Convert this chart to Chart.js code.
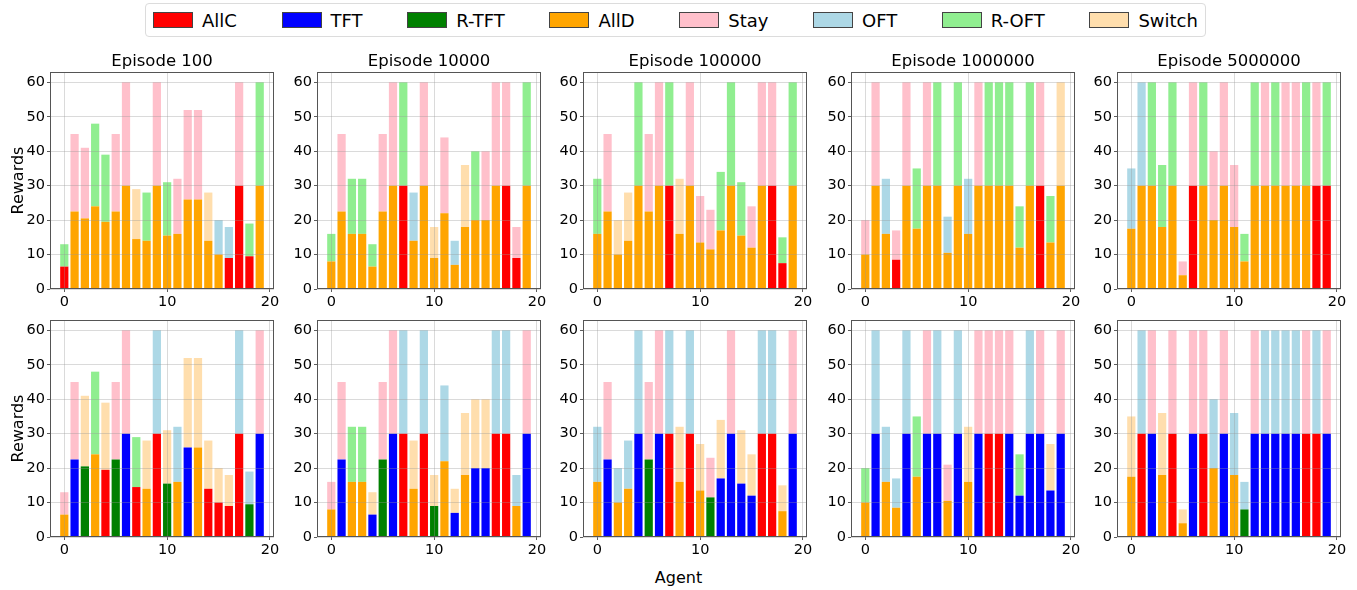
<!DOCTYPE html>
<html>
<head>
<meta charset="utf-8">
<script src="https://cdn.jsdelivr.net/npm/chart.js@4.4.0/dist/chart.umd.min.js"></script>
<style>
    body { margin: 0; background: #fff; font-family: "DejaVu Sans", sans-serif; }
    #wrap { position: relative; width: 1357px; height: 590px; overflow: hidden; background: #fff; }
    #wrap canvas { position: absolute; }
    #legend {
        position: absolute; left: 145px; top: 3px; width: 1061px; height: 34px;
        box-sizing: border-box; border: 1px solid #dcdcdc; border-radius: 4px;
        display: flex; align-items: center; justify-content: space-between; padding: 0 7px;
    }
    .item { display: flex; align-items: center; font-size: 18px; color: #000; }
    .patch { width: 38px; height: 14px; border: 1px solid #444; margin-right: 9px; }
    #xlabel { position: absolute; left: 0; width: 1357px; top: 568px; text-align: center; font-size: 16px; }
</style>
</head>
<body>
<div id="wrap">
    <div id="legend"></div>
    <div id="xlabel">Agent</div>
</div>
<script>
// ---- data ----
const agents = [0, 1, 2, 3, 4, 5, 6, 7, 8, 9, 10, 11, 12, 13, 14, 15, 16, 17, 18, 19];
const episodes = ['Episode 100', 'Episode 10000', 'Episode 100000', 'Episode 1000000', 'Episode 5000000'];
const xTicks = [0, 10, 20];
const yTicks = [0, 10, 20, 30, 40, 50, 60];

const strategies = ['AllC', 'TFT', 'R-TFT', 'AllD', 'Stay', 'OFT', 'R-OFT', 'Switch'];
const strategyCodes = ['C', 'T', 'R', 'D', 'S', 'O', 'G', 'W'];
const strategyColors = ['#ff0000', '#0000ff', '#008000', '#ffa500', '#ffc0cb', '#add8e6', '#90ee90', '#ffdead'];

// lower segment height and total bar height, per episode
const lower100 = [6.5, 22.5, 20.5, 24, 19.5, 22.5, 30, 14.5, 14, 30, 15.5, 16, 26, 26, 14, 10, 9, 30, 9.5, 30];
const total100 = [13, 45, 41, 48, 39, 45, 60, 29, 28, 60, 31, 32, 52, 52, 28, 20, 18, 60, 19, 60];
const lower10000 = [8, 22.5, 16, 16, 6.5, 22.5, 30, 30, 14, 30, 9, 22, 7, 18, 20, 20, 30, 30, 9, 30];
const total10000 = [16, 45, 32, 32, 13, 45, 60, 60, 28, 60, 18, 44, 14, 36, 40, 40, 60, 60, 18, 60];
const lower100000 = [16, 22.5, 10, 14, 30, 22.5, 30, 30, 16, 30, 13.5, 11.5, 17, 30, 15.5, 12, 30, 30, 7.5, 30];
const total100000 = [32, 45, 20, 28, 60, 45, 60, 60, 32, 60, 27, 23, 34, 60, 31, 24, 60, 60, 15, 60];
const lower1000000 = [10, 30, 16, 8.5, 30, 17.5, 30, 30, 10.5, 30, 16, 30, 30, 30, 30, 12, 30, 30, 13.5, 30];
const total1000000 = [20, 60, 32, 17, 60, 35, 60, 60, 21, 60, 32, 60, 60, 60, 60, 24, 60, 60, 27, 60];
const lower5000000 = [17.5, 30, 30, 18, 30, 4, 30, 30, 20, 30, 18, 8, 30, 30, 30, 30, 30, 30, 30, 30];
const total5000000 = [35, 60, 60, 36, 60, 8, 60, 60, 40, 60, 36, 16, 60, 60, 60, 60, 60, 60, 60, 60];

// strategy of each segment, one letter per agent (see strategyCodes)
const topRowLower = ['CDDDDDDDDDDDDDDDCCCD', 'DDDDDDDCDDDDDDDDDCCD', 'DDDDDDDCDDDDDDDDDCCD', 'DDDCDDDDDDDDDDDDDCDD', 'DDDDDDCDDDDDDDDDDDCC'];
const topRowUpper = ['GSSGGSSWGSGSSSWOOSGG', 'GSGGGSSGOSWSOWGSSSSG', 'GSWWGSSGWSSSGGGSSSGG', 'SSOSSGSGOGOSGGGGGSGW', 'OOGGGSSGSSSGGSGSSGSG'];
const bottomRowLower = ['DTRDCRTCDCRDTDCCCCRT', 'DTDDTRTCDCRDTDTTCCDT', 'DTDDTRTCDCDRTTTTCCDT', 'DTDDTDTTDTDTCCTTTTTT', 'DCTDCDTCDTDRTTTTTCCT'];
const bottomRowUpper = ['SSWGWSSGWOWOWWWWWOOS', 'SSGGWSSOWOWOWWWWOOOS', 'OSOOOSSOWOWSWSWWOOWS', 'GOOOOGSOSOWSSSSGOSWS', 'WOSWSWSSOSOOSOOOOSOS'];

const lowers = [lower100, lower10000, lower100000, lower1000000, lower5000000];
const totals = [total100, total10000, total100000, total1000000, total5000000];

// ---- layout ----
const FONT = 'DejaVu Sans';
const colLeft = [50, 317, 583, 851, 1117];
const rowTop = [72, 320];
const plotW = 224, plotH = 217, titleH = 20, xAxisH = 22, rightPad = 12;
const gridColor = 'rgba(150,150,150,0.45)';

function colorOf(code) {
    return strategyColors[strategyCodes.indexOf(code)];
}

// draw the axes frame like matplotlib spines
const framePlugin = {
    id: 'frame',
    afterDraw: function(chart) {
        var a = chart.chartArea, ctx = chart.ctx;
        ctx.save();
        ctx.strokeStyle = '#555';
        ctx.lineWidth = 1;
        ctx.strokeRect(Math.round(a.left) + 0.5, Math.round(a.top) + 0.5, Math.round(a.right - a.left) - 1, Math.round(a.bottom - a.top) - 1);
        ctx.restore();
    }
};

function makePanel(row, col) {
    var yAxisW = col == 0 ? 50 : 40;
    var canvas = document.createElement('canvas');
    canvas.width = yAxisW + plotW + rightPad;
    canvas.height = titleH + plotH + xAxisH;
    canvas.style.left = (colLeft[col] - yAxisW) + 'px';
    canvas.style.top = (rowTop[row] - titleH) + 'px';
    document.getElementById('wrap').appendChild(canvas);

    var low = lowers[col], tot = totals[col];
    var lowCodes = (row == 0 ? topRowLower : bottomRowLower)[col].split('');
    var upCodes = (row == 0 ? topRowUpper : bottomRowUpper)[col].split('');

    var segStyle = { borderWidth: 0, barPercentage: 0.8, categoryPercentage: 1.0 };

    var data = {
        datasets: [
            Object.assign({
                data: agents.map(function(a, i) { return { x: a, y: low[i] }; }),
                backgroundColor: lowCodes.map(colorOf)
            }, segStyle),
            Object.assign({
                data: agents.map(function(a, i) { return { x: a, y: tot[i] - low[i] }; }),
                backgroundColor: upCodes.map(colorOf)
            }, segStyle)
        ]
    };

    new Chart(canvas.getContext('2d'), {
        type: 'bar',
        data: data,
        plugins: [framePlugin],
        options: {
            responsive: false,
            animation: false,
            events: [],
            // bottom row has no title, keep the same plot box
            layout: { padding: { right: rightPad, top: row == 0 ? 0 : titleH } },
            plugins: {
                legend: { display: false },
                tooltip: { enabled: false },
                title: {
                    display: row == 0,
                    text: episodes[col],
                    fullSize: false,
                    color: '#000',
                    padding: 0,
                    font: { family: FONT, size: 16.5, weight: 'normal', lineHeight: titleH + 'px' }
                }
            },
            scales: {
                x: {
                    type: 'linear', stacked: true, min: -1.39, max: 20.39, offset: false,
                    grid: { offset: false, color: gridColor, lineWidth: 0.8, z: 1, tickColor: '#333', tickLength: 3 },
                    border: { display: false },
                    ticks: { color: '#000', padding: 2, maxRotation: 0, font: { family: FONT, size: 14.5 } },
                    afterBuildTicks: function(s) { s.ticks = xTicks.map(function(v) { return { value: v }; }); },
                    afterFit: function(s) { s.height = xAxisH; s.paddingLeft = 0; s.paddingRight = 0; }
                },
                y: {
                    stacked: true, min: 0, max: 63,
                    grid: { color: gridColor, lineWidth: 0.8, z: 1, tickColor: '#333', tickLength: 3 },
                    border: { display: false },
                    ticks: { color: '#000', padding: 2, font: { family: FONT, size: 14.5 } },
                    title: {
                        display: col == 0, text: 'Rewards', color: '#000',
                        padding: { top: 9, bottom: 0 },
                        font: { family: FONT, size: 16 }
                    },
                    afterBuildTicks: function(s) { s.ticks = yTicks.map(function(v) { return { value: v }; }); },
                    afterFit: function(s) { s.width = yAxisW; s.paddingTop = 0; s.paddingBottom = 0; }
                }
            }
        }
    });
}

// legend across the top
var legend = document.getElementById('legend');
strategies.forEach(function(name, i) {
    var item = document.createElement('div');
    item.className = 'item';
    item.innerHTML = '<span class="patch" style="background:' + strategyColors[i] + '"></span><span>' + name + '</span>';
    legend.appendChild(item);
});

for (var r = 0; r < 2; r++) {
    for (var c = 0; c < 5; c++) {
        makePanel(r, c);
    }
}
</script>
</body>
</html>
